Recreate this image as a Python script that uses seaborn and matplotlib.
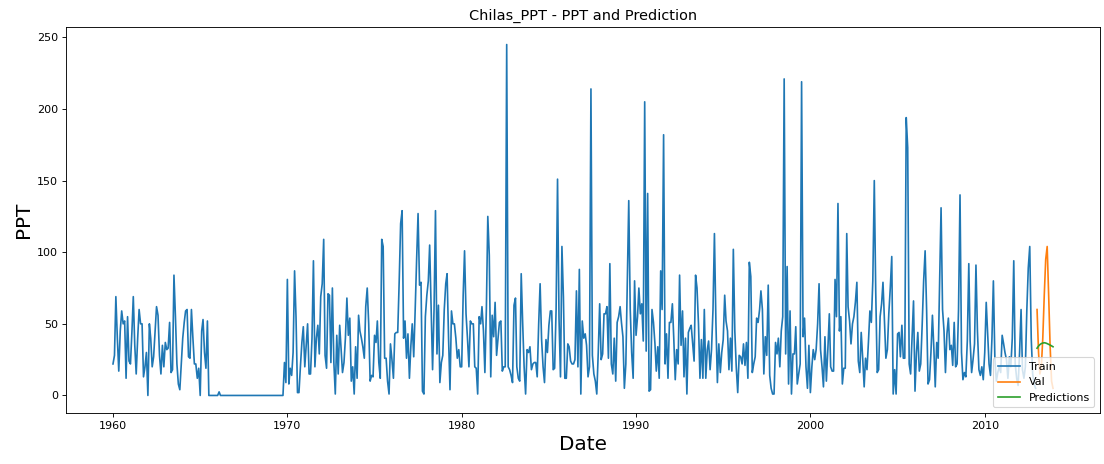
import numpy as np
import pandas as pd
import matplotlib
matplotlib.use("Agg")
import matplotlib.pyplot as plt
import seaborn as sns

# -----------------------------
# DATA (monthly PPT)
# -----------------------------
train_ppt = [
    # 1960
    22, 28, 69, 40, 17, 45, 59, 50, 52, 12, 55, 24,
    # 1961
    22, 45, 69, 35, 15, 40, 60, 50, 50, 13, 20, 30,
    # 1962
    0, 50, 40, 20, 27, 45, 62, 56, 28, 15, 35, 20,
    # 1963
    37, 32, 33, 51, 16, 18, 84, 55, 22, 8, 4, 22,
    # 1964
    40, 51, 59, 60, 27, 26, 60, 40, 22, 22, 12, 19,
    # 1965
    0, 45, 53, 30, 19, 52, 0, 0, 0, 0, 0, 0,
    # 1966
    0, 2.5, 0, 0, 0, 0, 0, 0, 0, 0, 0, 0,
    # 1967
    0, 0, 0, 0, 0, 0, 0, 0, 0, 0, 0, 0,
    # 1968
    0, 0, 0, 0, 0, 0, 0, 0, 0, 0, 0, 0,
    # 1969
    0, 0, 0, 0, 0, 0, 0, 0, 0, 0, 23, 9,
    # 1970
    81, 8, 19, 14, 30, 87, 55, 2, 2, 20, 37, 48,
    # 1971
    20, 36, 50, 15, 15, 40, 94, 20, 40, 49, 29, 69,
    # 1972
    78, 109, 28, 19, 71, 70, 23, 75, 23, 1, 42, 15,
    # 1973
    49, 31, 16, 23, 40, 68, 42, 54, 10, 20, 1, 34,
    # 1974
    12, 56, 45, 40, 34, 26, 62, 75, 50, 10, 14, 13,
    # 1975
    42, 37, 52, 23, 12, 109, 104, 26, 26, 10, 1, 36,
    # 1976
    25, 12, 43, 44, 44, 80, 120, 129, 40, 52, 26, 43,
    # 1977
    12, 35, 50, 27, 59, 95, 127, 77, 79, 3, 1, 55,
    # 1978
    70, 80, 105, 60, 18, 60, 129, 29, 63, 9, 23, 28,
    # 1979
    60, 78, 85, 40, 4, 59, 50, 50, 40, 26, 32, 20,
    # 1980
    20, 70, 101, 57, 40, 20, 52, 50, 50, 20, 19, 1,
    # 1981
    55, 50, 62, 45, 16, 60, 125, 98, 13, 56, 41, 65,
    # 1982
    28, 40, 51, 52, 17, 20, 20, 245, 20, 18, 14, 9,
    # 1983
    63, 68, 20, 12, 10, 85, 51, 20, 1, 32, 30, 34,
    # 1984
    18, 22, 23, 23, 13, 50, 78, 39, 20, 9, 39, 30,
    # 1985
    49, 59, 59, 18, 19, 60, 151, 54, 13, 104, 69, 12,
    # 1986
    12, 36, 34, 24, 22, 22, 25, 73, 20, 88, 1, 52,
    # 1987
    40, 43, 35, 13, 20, 214, 28, 15, 10, 1, 30, 64,
    # 1988
    25, 29, 57, 57, 62, 26, 92, 22, 15, 40, 10, 51,
    # 1989
    55, 62, 51, 41, 5, 22, 80, 136, 60, 30, 12, 80,
    # 1990
    42, 55, 75, 57, 64, 38, 205, 31, 141, 3, 4, 60,
    # 1991
    51, 36, 17, 34, 12, 87, 60, 182, 22, 43, 12, 51,
    # 1992
    51, 64, 40, 11, 32, 22, 84, 35, 59, 13, 40, 1,
    # 1993
    44, 47, 49, 36, 24, 84, 75, 50, 12, 39, 12, 60,
    # 1994
    12, 32, 38, 18, 32, 60, 113, 51, 9, 36, 16, 30,
    # 1995
    39, 70, 52, 45, 18, 40, 17, 102, 45, 20, 2, 28,
    # 1996
    27, 22, 36, 21, 37, 12, 93, 83, 16, 22, 27, 54,
    # 1997
    51, 60, 73, 60, 15, 41, 28, 77, 14, 5, 1, 1,
    # 1998
    37, 29, 40, 20, 45, 55, 221, 29, 90, 8, 59, 1,
    # 1999
    29, 29, 48, 8, 15, 22, 219, 41, 54, 20, 5, 35,
    # 2000
    2, 20, 32, 25, 32, 50, 78, 32, 20, 6, 41, 10,
    # 2001
    32, 57, 20, 17, 17, 81, 55, 134, 45, 55, 8, 19,
    # 2002
    19, 113, 62, 52, 36, 50, 55, 65, 79, 24, 16, 44,
    # 2003
    26, 6, 26, 18, 37, 59, 51, 80, 150, 73, 16, 18,
    # 2004
    55, 64, 79, 51, 26, 32, 57, 75, 97, 1, 18, 1,
    # 2005
    43, 44, 27, 49, 26, 26, 194, 173, 22, 15, 40, 66,
    # 2006
    3, 30, 44, 17, 22, 50, 80, 101, 60, 8, 11, 30,
    # 2007
    56, 32, 6, 37, 26, 80, 131, 60, 45, 16, 43, 54,
    # 2008
    32, 35, 21, 51, 20, 22, 60, 140, 30, 11, 16, 13,
    # 2009
    38, 92, 38, 16, 25, 36, 91, 45, 18, 14, 20, 11,
    # 2010
    30, 65, 44, 22, 14, 40, 80, 26, 10, 16, 20, 16,
    # 2011
    42, 36, 30, 25, 12, 27, 20, 40, 94, 22, 12, 7,
    # 2012
    30, 60, 18, 12, 20, 60, 89, 104, 40, 15, 8, 5,
]

val_ppt = [60, 30, 15, 20, 40, 70, 95, 104, 70, 35, 10, 5]
pred_ppt = [33, 34.5, 35.5, 36.2, 36.6, 36.8, 36.6, 36.2, 35.7, 35.2, 34.6, 34]

train_dates = pd.date_range("1960-01-01", periods=len(train_ppt), freq="MS")
val_dates = pd.date_range("2013-01-01", periods=len(val_ppt), freq="MS")

# -----------------------------
# PLOT
# -----------------------------
DPI = 80
fig = plt.figure(figsize=(1104 / DPI, 464 / DPI), dpi=DPI)
ax = fig.add_axes([66 / 1104, 51 / 464, 1034 / 1104, 386 / 464])

sns.lineplot(x=train_dates, y=train_ppt, ax=ax, label="Train", color="C0")
sns.lineplot(x=val_dates, y=val_ppt, ax=ax, label="Val", color="C1")
sns.lineplot(x=val_dates, y=pred_ppt, ax=ax, label="Predictions", color="C2")

ax.set_title("Chilas_PPT - PPT and Prediction", fontsize=13)
ax.set_xlabel("Date", fontsize=18)
ax.set_ylabel("PPT", fontsize=18)
ax.legend(loc="lower right")

fig.savefig("out.png", dpi=DPI)
